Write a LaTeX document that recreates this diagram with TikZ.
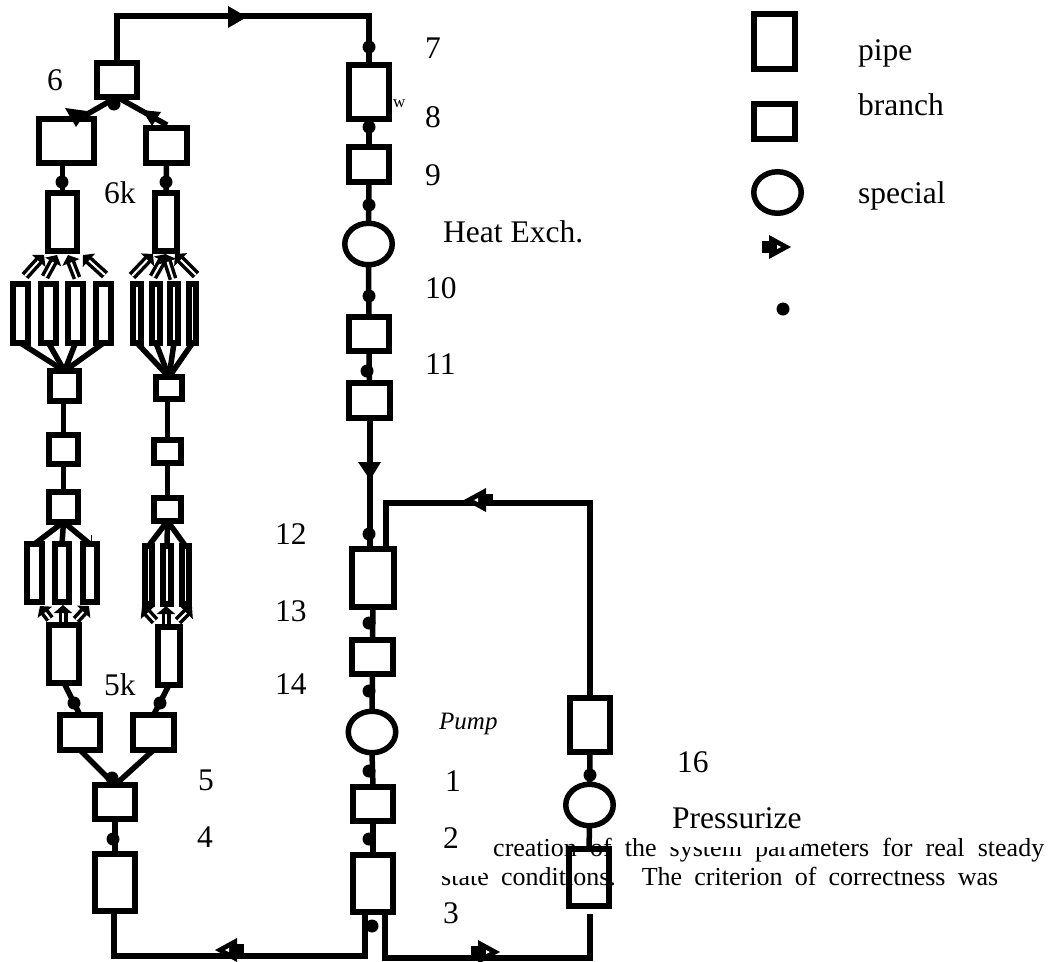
\documentclass[tikz,border=0pt]{standalone}
\usepackage{fontspec}
\setmainfont{Liberation Serif}
\usetikzlibrary{arrows.meta,shapes.geometric}
\tikzset{
  pipeline/.style={line width=5.5pt,black,line join=miter},
  thick box/.style={draw=black,line width=6pt,rectangle,inner sep=0pt,outer sep=0pt},
  special/.style={draw=black,line width=5.5pt,ellipse,inner sep=0pt,outer sep=0pt,minimum width=47.5pt,minimum height=41.5pt},
  junction/.style={circle,fill=black,inner sep=0pt,minimum size=13pt},
  lab/.style={font=\fontsize{31.5}{34}\selectfont,anchor=base west,inner sep=0pt,text=black},
  body/.style={font=\fontsize{26}{30}\selectfont,anchor=base west,inner sep=0pt,text=black},
  hollow/.style={line width=3.5pt,double=white,double distance=2pt,-{Triangle[length=8pt,width=18pt]}}
}
\newcommand{\bx}[5]{\node[thick box,minimum width=#4-#2-6pt,minimum height=#5-#3-6pt] (#1) at ({(#2+#4)/2},{(#3+#5)/2}) {};}
\newcommand{\flowmark}[3]{\begin{scope}[shift={(#1,#2)},rotate=#3]
  \fill[black] (-7,-6) rectangle (1,6);
  \fill[black] (0,-12) -- (22,0) -- (0,12) -- cycle;
  \fill[white] (8,-2) -- (12,0) -- (8,2) -- cycle;
\end{scope}}
\begin{document}
\begin{tikzpicture}[x=1pt,y=-1pt]
\useasboundingbox (0,0) rectangle (1056,961);
% body text under the drawing
\node[body] (t1) at (493,856) {\makebox[551pt][s]{creation of the system parameters for real steady}};
\node[body] (t2) at (441,885) {\makebox[557pt][s]{state conditions. The criterion of correctness was}};
\fill[white] (668,800) rectangle (803,847);
\fill[white] (438,860) rectangle (483,876);
% labels
\foreach \n/\x/\y/\t in {a/47/90/6,b/104/203/6k,c/425/58/7,d/425/127/8,e/425/185/9,f/443/242/Heat Exch.,g/425/298/10,h/425/374/11,i/275/544/12,j/275/621/13,k/275/694/14,l/104/695/5k,m/198/790/5,n/197/847/4,o/445/791/1,p/443/848/2,q/443/923/3,r/677/772/16,s/672/828/Pressurize,u/858/60/pipe,v/858/115/branch,w/858/203/special}
  \node[lab] (lab\n) at (\x,\y) {\t};
\node[font=\itshape\fontsize{25}{28}\selectfont,anchor=base west,inner sep=0pt] (labpump) at (439,729) {Pump};
\node[font=\fontsize{17}{20}\selectfont,anchor=base west,inner sep=0pt] (labw) at (393,107) {w};
% main column
\bx{m7}{346}{62}{392}{122}
\bx{m9}{346}{144}{392}{185}
\node[special] (he) at (368.5,244) {};
\bx{m10}{346}{314}{392}{354}
\bx{m11}{346}{380}{393}{421}
\bx{m12}{349}{546}{397}{610}
\bx{m13}{349}{637}{396}{677}
\node[special] (pu) at (372,732) {};
\bx{m1}{350}{784}{396}{824}
\bx{m2}{350}{852}{396}{915}
% pressurizer loop
\bx{p1}{567}{695}{613}{755}
\node[special] (pz) at (589.5,805) {};
\bx{p2}{566}{846}{612}{909}
% left tree
\bx{b6}{94}{60}{140}{100}
\bx{bl}{36}{116}{97}{166}
\bx{br}{143}{125}{190}{166}
\bx{pl}{45}{190}{80}{254}
\bx{pr}{152}{190}{180}{254}
\bx{ta1}{10}{281}{31}{346}
\bx{ta2}{38}{281}{59}{346}
\bx{ta3}{65}{281}{86}{346}
\bx{ta4}{93}{281}{114}{346}
\bx{tb1}{130}{281}{144}{346}
\bx{tb2}{149}{281}{163}{346}
\bx{tb3}{167}{281}{181}{346}
\bx{tb4}{186}{281}{199}{346}
\bx{c1l}{47}{368}{82}{404}
\bx{c1r}{153}{374}{185}{402}
\bx{c2l}{46}{432}{81}{467}
\bx{c2r}{151}{437}{184}{466}
\bx{c3l}{46}{489}{81}{525}
\bx{c3r}{151}{495}{184}{524}
\bx{ua1}{24}{541}{45}{605}
\bx{ua2}{52}{541}{72}{605}
\bx{ua3}{80}{541}{100}{605}
\bx{ub1}{142}{543}{155}{607}
\bx{ub2}{160}{543}{174}{607}
\bx{ub3}{179}{543}{192}{607}
\bx{ql}{46}{622}{82}{686}
\bx{qr}{155}{624}{183}{688}
\bx{dl}{57}{712}{103}{753}
\bx{dr}{130}{712}{177}{753}
\bx{b5}{92}{782}{138}{822}
\bx{b4}{92}{851}{138}{914}
% legend
\bx{lg1}{751}{11}{798}{72}
\bx{lg2}{751}{101}{798}{142}
\node[special] (lg3) at (777.5,192.5) {};
\flowmark{769}{247}{0}
\node[junction] (lg5) at (783,309) {};
% connectors: main column
\coordinate (tl) at (117,16);
\coordinate (tr) at (369,16);
\draw[pipeline] (b6.north -| tl) -- (tl) -- (tr) -- (m7.north -| tr);
\fill[black] (228,6) -- (247,17) -- (228,28) -- cycle;
\draw[pipeline] (m7.south) -- (m9.north);
\draw[pipeline] (m9.south) -- (he.north);
\draw[pipeline] (he.south) -- (m10.north);
\draw[pipeline] (m10.south) -- (m11.north);
\coordinate (m12t) at (370,546);
\draw[pipeline] (m11.south -| m12t) -- (m12t);
\fill[black] (358,462) -- (370,480) -- (381,462) -- cycle;
\draw[pipeline] (m12.south) -- (m13.north);
\draw[pipeline] (m13.south) -- (pu.north);
\draw[pipeline] (pu.south) -- (m1.north);
\draw[pipeline] (m1.south) -- (m2.north);
% pressurizer line
\coordinate (a1) at (386,546);
\coordinate (a2) at (386,503);
\coordinate (a3) at (590,503);
\draw[pipeline] (a1) -- (a2) -- (a3) -- (p1.north);
\flowmark{486}{500}{180}
\draw[pipeline] (p1.south) -- (pz.north);
\draw[pipeline] (pz.south) -- (p2.north);
\coordinate (b1) at (365,915);
\coordinate (b2) at (365,956);
\coordinate (b3) at (114,956);
\draw[pipeline] (b1) -- (b2) -- (b3) -- (b4.south -| b3);
\flowmark{237}{950}{180}
\coordinate (c1) at (385,915);
\coordinate (c2) at (385,958);
\coordinate (c3) at (590,958);
\coordinate (c4) at (590,914);
\draw[pipeline] (c1) -- (c2) -- (c3) -- (c4);
\flowmark{478}{952}{0}
% left tree connectors
\coordinate (s1) at (84,116);
\coordinate (s2) at (167,125);
\draw[pipeline] (b6.south) -- (s1);
\draw[pipeline] (b6.south) -- (s2);
\fill[black] (65,108) -- (87,111) -- (76,127) -- cycle;
\fill[black] (142,110) -- (161,112) -- (152,126) -- cycle;
\draw[pipeline] (bl.south -| pl.north) -- (pl.north);
\draw[pipeline] (br.south) -- (pr.north);
\foreach \f/\t in {c1l/ta1,c1l/ta2,c1l/ta3,c1l/ta4,c1r/tb1,c1r/tb2,c1r/tb3,c1r/tb4}
  \draw[pipeline] (\f.north) -- (\t.south);
\draw[pipeline] (c1l.south -| c2l.north) -- (c2l.north);
\draw[pipeline] (c2l.south) -- (c3l.north);
\draw[pipeline] (c1r.south -| c2r.north) -- (c2r.north);
\draw[pipeline] (c2r.south) -- (c3r.north);
\foreach \f/\t in {c3l/ua1,c3l/ua2,c3l/ua3,c3r/ub1,c3r/ub2,c3r/ub3}
  \draw[pipeline] (\f.south) -- (\t.north);
\draw[pipeline] (ql.south) -- (dl.north);
\draw[pipeline] (qr.south) -- (dr.north);
\draw[pipeline] (dl.south) -- (b5.north);
\draw[pipeline] (dr.south) -- (b5.north);
\draw[pipeline] (b5.south) -- (b4.north);
\draw[line width=1pt] (91,535) -- (91,541);
% hollow arrows
\foreach \xa/\ya/\xb/\yb in {25/276/44/255,45/277/57/255,77/278/68/255,105/275/83/255,132/276/153/254,153/277/166/254,173/279/165/254,196/275/175/254,50/619/40/606,63/622/63/605,76/620/89/606,155/621/142/607,166/624/166/606,178/621/192/607}
  \draw[hollow] (\xa,\ya) -- (\xb,\yb);
% junction dots
\foreach \n/\x/\y in {1/369/47,2/369/127,3/369/205,4/369/296,5/367/371,6/369/534,7/369/623,8/369/691,9/369/771,10/369/839,11/372/926,12/590/775,13/114/104,14/62/182,15/166/182,16/74/703,17/160/703,18/112/778,19/113/839}
  \node[junction] (dot\n) at (\x,\y) {};
\end{tikzpicture}
\end{document}
